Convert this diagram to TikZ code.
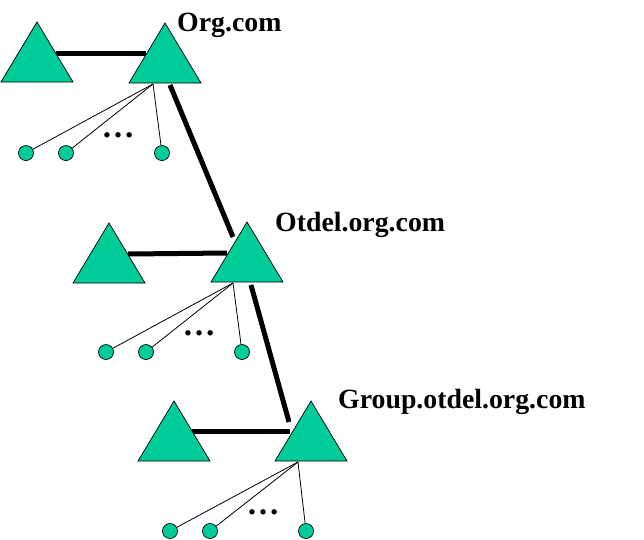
\documentclass[tikz,border=0pt]{standalone}
\usepackage{fontspec}
\setmainfont{Liberation Serif}
\usetikzlibrary{calc}
\definecolor{tealfill}{RGB}{0,204,153}
\newcommand\mktri[3]{%
  \coordinate (#1-a) at (#2,#3);
  \coordinate (#1-l) at ($(#1-a)+(-36,60)$);
  \coordinate (#1-r) at ($(#1-a)+(36,60)$);
  \filldraw[tri] (#1-a) -- (#1-r) -- (#1-l) -- cycle;}
\begin{document}
\begin{tikzpicture}[x=1pt,y=-1pt,
  tri/.style={fill=tealfill,draw=black,line width=0.7pt,line join=miter},
  leaf/.style={circle,fill=tealfill,draw=black,line width=0.7pt,minimum size=15pt,inner sep=0pt},
  link/.style={line width=5pt},
  fan/.style={line width=0.8pt},
  lbl/.style={font=\fontsize{27.8}{30}\selectfont\bfseries,anchor=base west,inner sep=0pt},
  dotsty/.style={font=\fontsize{33}{35}\selectfont\bfseries,anchor=base,inner sep=0pt}]
\useasboundingbox (0,0) rectangle (644,539);
% key points for links (before drawing triangles)
\coordinate (T1L-a) at (37,22);  \coordinate (T1R-a) at (165,23);
\coordinate (T2L-a) at (109,223); \coordinate (T2R-a) at (247,222);
\coordinate (T3L-a) at (174,401); \coordinate (T3R-a) at (311,401);
\coordinate (h1s) at ($(T1L-a)+(19,31)$); \coordinate (h1e) at ($(T1R-a)+(-19,30)$);
\coordinate (h2s) at ($(T2L-a)+(19,31)$); \coordinate (h2e) at ($(T2R-a)+(-20,31)$);
\coordinate (h3s) at ($(T3L-a)+(18,30)$); \coordinate (h3e) at ($(T3R-a)+(-21,30)$);
\coordinate (d1s) at ($(T1R-a)+(5,62)$); \coordinate (d1e) at ($(T2R-a)+(-14,15)$);
\coordinate (d2s) at ($(T2R-a)+(4,63)$); \coordinate (d2e) at ($(T3R-a)+(-22,21)$);
\draw[link] (h1s) -- (h1e);
\draw[link] (h2s) -- (h2e);
\draw[link] (h3s) -- (h3e);
\draw[link] (d1s) -- (d1e);
\draw[link] (d2s) -- (d2e);
% triangles
\mktri{T1L}{37}{22}
\mktri{T1R}{165}{23}
\mktri{T2L}{109}{223}
\mktri{T2R}{247}{222}
\mktri{T3L}{174}{401}
\mktri{T3R}{311}{401}
% fan points
\coordinate (f1) at ($(T1R-a)+(-12,61)$);
\coordinate (f2) at ($(T2R-a)+(-14,61)$);
\coordinate (f3) at ($(T3R-a)+(-13,61)$);
% leaves
\node[leaf] (c11) at (26,153) {};
\node[leaf] (c12) at (66,153) {};
\node[leaf] (c13) at (162,153) {};
\node[leaf] (c21) at (106,352) {};
\node[leaf] (c22) at (146,352) {};
\node[leaf] (c23) at (242,352) {};
\node[leaf] (c31) at (170,531) {};
\node[leaf] (c32) at (210,531) {};
\node[leaf] (c33) at (306,531) {};
\foreach \g in {1,2,3}{
  \foreach \k in {1,2,3}{
    \draw[fan] (f\g) -- (c\g\k);
  }
}
% dots
\node[dotsty] (e1) at (118,137) {…};
\node[dotsty] (e2) at (199,335) {…};
\node[dotsty] (e3) at (263,514) {…};
% labels
\node[lbl] (l1) at (177,31) {Org.com};
\node[lbl] (l2) at (275,231) {Otdel.org.com};
\node[lbl] (l3) at (338,408) {Group.otdel.org.com};
\end{tikzpicture}
\end{document}
